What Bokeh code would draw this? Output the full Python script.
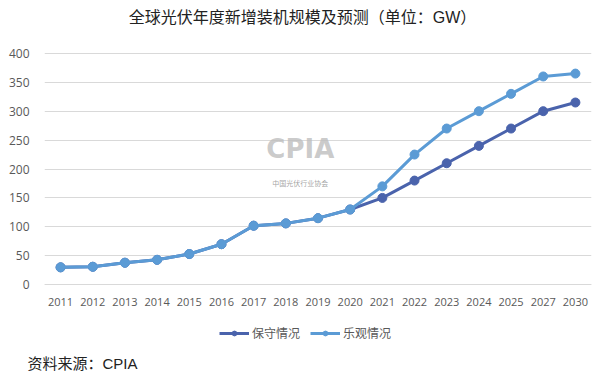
from bokeh.plotting import figure
from bokeh.models import Legend, LegendItem, Title, Label, Range1d
from bokeh.embed import file_html
from bokeh.resources import INLINE

years = ["2011", "2012", "2013", "2014", "2015", "2016", "2017", "2018", "2019",
         "2020", "2021", "2022", "2023", "2024", "2025", "2027", "2030"]
conservative = [30, 31, 38, 43, 53, 70, 102, 106, 115, 130, 150, 180, 210, 240, 270, 300, 315]
optimistic = [30, 31, 38, 43, 53, 70, 102, 106, 115, 130, 170, 225, 270, 300, 330, 360, 365]
y_ticks = [0, 50, 100, 150, 200, 250, 300, 350, 400]

title_text = "全球光伏年度新增装机规模及预测（单位：GW）"
source_text = "资料来源：CPIA"
name_cons = "保守情况"
name_opt = "乐观情况"

FONT = "Open Sans"
CJK = "Noto Sans CJK SC"
MIXED = "Liberation Sans, Noto Sans CJK SC"
c_cons = "#4A63AC"
c_opt = "#5B9BD5"

# frame spans 0..350px vertically; 400 sits at 53px and 0 at 285px
FRAME_TOP, FRAME_BOTTOM, TOP_Y, ZERO_Y, Y_MAX = 0, 350, 53, 285, 400
px_per_unit = (ZERO_Y - TOP_Y) / Y_MAX
y_start = -(FRAME_BOTTOM - ZERO_Y) / px_per_unit
y_end = Y_MAX + (TOP_Y - FRAME_TOP) / px_per_unit

p = figure(x_range=years, y_range=Range1d(y_start, y_end), width=596, height=374,
           output_backend="svg", toolbar_location=None,
           min_border_left=44, min_border_right=5, min_border_top=FRAME_TOP,
           min_border_bottom=374 - FRAME_BOTTOM)
p.outline_line_color = None
p.background_fill_color = "white"
p.border_fill_color = "white"

p.xgrid.grid_line_color = None
p.ygrid.grid_line_color = "#D9D9D9"
p.ygrid.grid_line_width = 1
p.yaxis.ticker = y_ticks
p.yaxis.axis_line_color = None
p.yaxis.major_tick_line_color = None
p.yaxis.minor_tick_line_color = None
p.yaxis.major_label_text_font = FONT
p.yaxis.major_label_text_font_size = "12px"
p.yaxis.major_label_text_color = "#595959"
p.yaxis.major_label_standoff = 9

p.xaxis.fixed_location = 0
p.xaxis.axis_line_color = "#D9D9D9"
p.xaxis.major_tick_line_color = None
p.xaxis.minor_tick_line_color = None
p.xaxis.major_label_text_font = FONT
p.xaxis.major_label_text_font_size = "11px"
p.xaxis.major_label_text_color = "#595959"
p.xaxis.major_label_standoff = 7
p.x_range.range_padding = 0

# watermark
p.add_layout(Label(x=7.95, y=208, text="CPIA", text_font="DejaVu Sans",
                   text_font_size="26px", text_font_style="bold", text_color="#BDBDBD",
                   text_align="center", text_baseline="bottom", text_alpha=0.8))
p.add_layout(Label(x=7.95, y=176, text="中国光伏行业协会", text_font=CJK,
                   text_font_size="7px", text_color="#999999",
                   text_align="center", text_baseline="middle", text_alpha=0.9))

l1 = p.line(years, conservative, line_color=c_cons, line_width=3)
s1 = p.scatter(years, conservative, size=9, fill_color=c_cons, line_color=c_cons)
l2 = p.line(years, optimistic, line_color=c_opt, line_width=3)
s2 = p.scatter(years, optimistic, size=9, fill_color=c_opt, line_color=c_opt)

legend = Legend(items=[LegendItem(label=name_cons, renderers=[l1, s1]),
                       LegendItem(label=name_opt, renderers=[l2, s2])],
                orientation="horizontal", location=(175, 8),
                border_line_color=None, background_fill_alpha=0,
                label_text_font=CJK, label_text_font_size="12px",
                label_text_color="#595959", glyph_width=30, glyph_height=12,
                spacing=10, label_standoff=3, padding=0, margin=0)
p.add_layout(legend, "center")

# chart title, inside the (taller) frame
p.add_layout(Label(x=258, y=FRAME_BOTTOM - 18, x_units="screen", y_units="screen",
                   text=title_text, text_font=MIXED, text_font_size="16px",
                   text_color="#222222", text_align="center", text_baseline="middle"))

p.add_layout(Title(text=source_text, text_font=MIXED, text_font_size="15px",
                   text_font_style="normal", text_color="#222222", align="left",
                   offset=-17, standoff=6), "below")

open("out.html", "w").write(file_html(p, INLINE))
